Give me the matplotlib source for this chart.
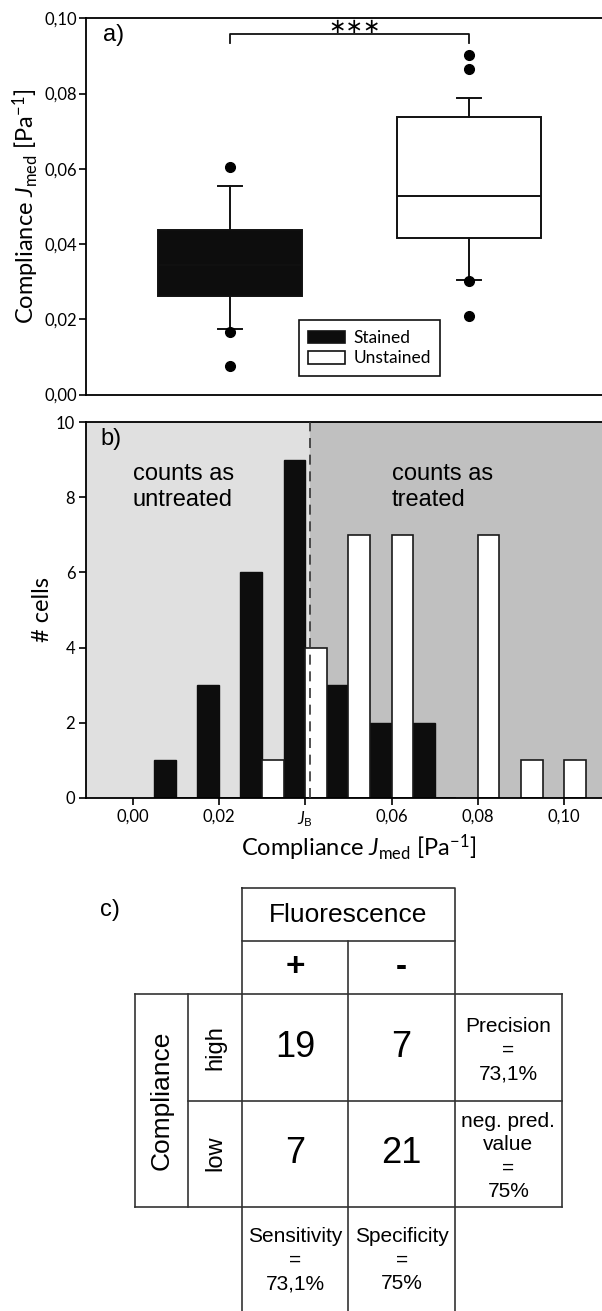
import matplotlib
matplotlib.use('Agg')
import matplotlib.pyplot as plt
from matplotlib.patches import Patch
from matplotlib.ticker import FuncFormatter

plt.rcParams['font.family'] = ['Lato', 'DejaVu Sans']
plt.rcParams['mathtext.fontset'] = 'custom'
plt.rcParams['mathtext.rm'] = 'Lato'
plt.rcParams['mathtext.it'] = 'Lato:italic'
plt.rcParams['mathtext.bf'] = 'Lato:bold'
plt.rcParams['axes.linewidth'] = 1.3

ARIAL = ['Liberation Sans', 'DejaVu Sans']

# panel a: box statistics
groups = ['Stained', 'Unstained']
q1 = [0.0261, 0.0416]
med = [0.0345, 0.0528]
q3 = [0.0438, 0.0737]
whis_lo = [0.0173, 0.0305]
whis_hi = [0.0555, 0.0787]
fliers = [[0.0606, 0.0165, 0.0077], [0.0903, 0.0865, 0.0303, 0.0208]]
box_colors = ['#0d0d0d', 'white']

# panel b: histogram of J_med
bin_centers = [0.01, 0.02, 0.03, 0.04, 0.05, 0.06, 0.07, 0.08, 0.09, 0.10]
stained_counts = [1, 3, 6, 9, 3, 2, 2, 0, 0, 0]
unstained_counts = [0, 0, 1, 4, 7, 7, 0, 7, 1, 1]
j_b = 0.041
x_ticks = [0.0, 0.02, 0.04, 0.06, 0.08, 0.10]
x_tick_labels = ['0,00', '0,02', r'$J_\mathrm{B}$', '0,06', '0,08', '0,10']

# panel c: confusion table
fluor_cols = ['+', '-']
compl_rows = ['high', 'low']
confusion = [[19, 7], [7, 21]]
row_metrics = ['Precision\n=\n73,1%', 'neg. pred.\nvalue\n=\n75%']
col_metrics = ['Sensitivity\n=\n73,1%', 'Specificity\n=\n75%']

comma = FuncFormatter(lambda v, p: f'{v:.2f}'.replace('.', ','))
ylab = r'Compliance $J_\mathrm{med}$ [Pa$^{-1}$]'

W, H = 602, 1311
fig = plt.figure(figsize=(W / 100, H / 100), dpi=100)

# table layer in pixel coordinates
axc = fig.add_axes([0, 0, 1, 1])
axc.set_xlim(0, W)
axc.set_ylim(H, 0)
axc.axis('off')

ax_a = fig.add_axes([86.4 / W, 1 - 394.5 / H, 545.6 / W, 376.2 / H])
ax_b = fig.add_axes([86.4 / W, 1 - 797.7 / H, 545.6 / W, 375.4 / H])

# ---- a) boxes
stats = []
for i in range(2):
    stats.append(dict(q1=q1[i], med=med[i], q3=q3[i], whislo=whis_lo[i],
                      whishi=whis_hi[i], fliers=fliers[i], label=groups[i]))
bp = ax_a.bxp(stats, positions=[1, 2], widths=0.6, capwidths=0.1,
              patch_artist=True,
              boxprops=dict(linewidth=1.4, edgecolor='#111111'),
              whiskerprops=dict(linewidth=1.4, color='#111111'),
              capprops=dict(linewidth=1.4, color='#111111'),
              medianprops=dict(linewidth=1.4, color='#111111'),
              flierprops=dict(marker='o', markerfacecolor='black',
                              markeredgecolor='black', markersize=7))
for patch, c in zip(bp['boxes'], box_colors):
    patch.set_facecolor(c)

ax_a.set_xlim(0.399, 2.682)
ax_a.set_ylim(0, 0.10)
ax_a.set_yticks([0, 0.02, 0.04, 0.06, 0.08, 0.10])
ax_a.yaxis.set_major_formatter(comma)
ax_a.set_xticks([])
ax_a.spines['right'].set_visible(False)
ax_a.tick_params(axis='y', direction='out', length=5, width=1.2,
                 labelsize=12, pad=2)
ax_a.set_ylabel(ylab, fontsize=17)
ax_a.yaxis.set_label_coords(-0.083, 0.5)

# significance bracket
ax_a.plot([1, 1, 2, 2], [0.0935, 0.09575, 0.09575, 0.0935], color='#111111', lw=1.3)
ax_a.text(1.52, 0.0977, '\u2217\u2217\u2217', ha='center', va='center',
          fontsize=15, family='DejaVu Sans')
ax_a.text(0.03, 0.955, 'a)', transform=ax_a.transAxes, fontsize=17,
          family=ARIAL, va='center', ha='left')

handles = [Patch(facecolor=c, edgecolor='#111111', linewidth=1.2) for c in box_colors]
leg = ax_a.legend(handles, groups, loc='upper left', bbox_to_anchor=(0.389, 0.197),
                  borderaxespad=0, fontsize=12.5, fancybox=False, framealpha=1,
                  edgecolor='#111111', handlelength=2.1, handleheight=0.75,
                  handletextpad=0.5, borderpad=0.55, labelspacing=0.25)
leg.get_frame().set_linewidth(1.2)

# ---- b) histogram
xmin, xmax = -0.0107, 0.1157
ax_b.axvspan(xmin, j_b, color='#e0e0e0', zorder=0)
ax_b.axvspan(j_b, xmax, color='#c0c0c0', zorder=0)
ax_b.bar(bin_centers, stained_counts, width=-0.005, align='edge',
         color='#0d0d0d', edgecolor='#0d0d0d', linewidth=1.0, zorder=2)
ax_b.bar(bin_centers, unstained_counts, width=0.005, align='edge',
         color='white', edgecolor='#1a1a1a', linewidth=1.2, zorder=2)
ax_b.axvline(j_b, color='#333333', lw=1.2, dashes=(6, 4), zorder=3)
ax_b.set_xlim(xmin, xmax)
ax_b.set_ylim(0, 10)
ax_b.set_yticks([0, 2, 4, 6, 8, 10])
ax_b.set_xticks(x_ticks)
ax_b.set_xticklabels(x_tick_labels)
ax_b.spines['right'].set_visible(False)
ax_b.tick_params(direction='out', length=5, width=1.2, labelsize=12, pad=3)
ax_b.set_ylabel('# cells', fontsize=17)
ax_b.yaxis.set_label_coords(-0.062, 0.5)
ax_b.set_xlabel(ylab, fontsize=17, labelpad=3)
ax_b.text(0.025, 0.955, 'b)', transform=ax_b.transAxes, fontsize=17,
          family=ARIAL, va='center', ha='left')
ax_b.text(0.0, 8.28, 'counts as\nuntreated', fontsize=17, family=ARIAL,
          va='center', ha='left', linespacing=1.2)
ax_b.text(0.060, 8.28, 'counts as\ntreated', fontsize=17, family=ARIAL,
          va='center', ha='left', linespacing=1.2)

# ---- c) table
cx = [135, 188.3, 241.7, 348.3, 455, 561.7]
ry = [887.7, 940.7, 994, 1100.7, 1206.7, H]
lk = dict(color='#333333', lw=1.2, solid_capstyle='projecting')
axc.plot([cx[2], cx[4], cx[4], cx[2], cx[2]], [ry[0], ry[0], ry[1], ry[1], ry[0]], **lk)
for x in cx[2:5]:
    axc.plot([x, x], [ry[1], ry[5]], **lk)
for x in [cx[0], cx[1], cx[5]]:
    axc.plot([x, x], [ry[2], ry[4]], **lk)
axc.plot([cx[0], cx[5]], [ry[2], ry[2]], **lk)
axc.plot([cx[1], cx[5]], [ry[3], ry[3]], **lk)
axc.plot([cx[0], cx[5]], [ry[4], ry[4]], **lk)

tk = dict(family=ARIAL, ha='center', va='center')
axc.text(100, 910, 'c)', fontsize=17, family=ARIAL, ha='left', va='center')
axc.text((cx[2] + cx[4]) / 2, (ry[0] + ry[1]) / 2 + 1, 'Fluorescence', fontsize=19, **tk)
for j, s in enumerate(fluor_cols):
    axc.text((cx[2 + j] + cx[3 + j]) / 2, (ry[1] + ry[2]) / 2, s, fontsize=24,
             fontweight='bold', **tk)
axc.text((cx[0] + cx[1]) / 2, (ry[2] + ry[4]) / 2, 'Compliance', fontsize=19,
         rotation=90, **tk)
for i, s in enumerate(compl_rows):
    ymid = (ry[2 + i] + ry[3 + i]) / 2
    axc.text((cx[1] + cx[2]) / 2, ymid, s, fontsize=17, rotation=90, **tk)
    for j in range(2):
        axc.text((cx[2 + j] + cx[3 + j]) / 2, ymid, str(confusion[i][j]),
                 fontsize=26, **tk)
    axc.text((cx[4] + cx[5]) / 2, ymid + 3, row_metrics[i], fontsize=15,
             linespacing=1.3, **tk)
for j, s in enumerate(col_metrics):
    axc.text((cx[2 + j] + cx[3 + j]) / 2, 1260, s, fontsize=15,
             linespacing=1.3, **tk)

fig.savefig('out.png', dpi=100)
